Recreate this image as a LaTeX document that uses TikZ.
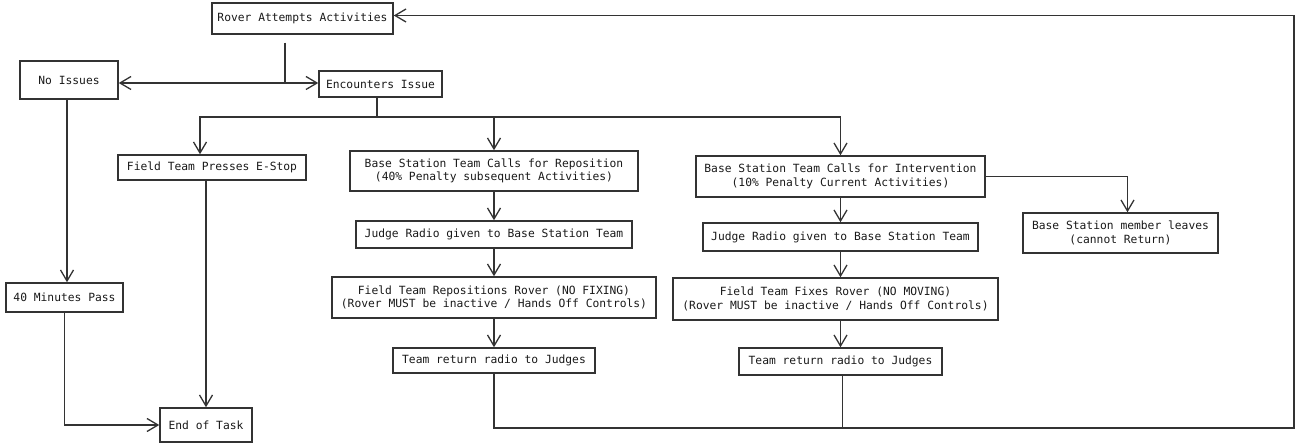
\documentclass[tikz,border=0pt]{standalone}
\usepackage{fontspec}
\setmonofont{DejaVu Sans Mono}
\usetikzlibrary{
  arrows.meta,
  positioning,
}

\begin{document}
\begin{tikzpicture}[x=1pt,y=-1pt,
  line width=1.5pt, draw=black!80,
  >={Straight Barb[length=11pt,width=13pt,line width=1.3pt]},
  box/.style={draw, rectangle, inner sep=2pt, align=center, text=black!90,
    font=\ttfamily\fontsize{11.3}{13.5}\selectfont},
]
\useasboundingbox (0,0) rectangle (1298,443);
\node[box, minimum width=181, minimum height=31] (rover) at (302.5,18.5) {Rover Attempts Activities};
\node[box, minimum width=98, minimum height=38] (noiss) at (69,80) {No Issues};
\node[box, minimum width=123, minimum height=26] (enc) at (380.5,84) {Encounters Issue};
\node[box, minimum width=188, minimum height=25] (estop) at (212,167.5) {Field Team Presses E-Stop};
\node[box, minimum width=288, minimum height=40] (repos) at (494,171) {Base Station Team Calls for Reposition\\(40\% Penalty subsequent Activities)};
\node[box, minimum width=289, minimum height=41] (interv) at (840.5,176.5) {Base Station Team Calls for Intervention\\(10\% Penalty Current Activities)};
\node[box, minimum width=195, minimum height=40] (leaves) at (1120.5,233) {Base Station member leaves\\(cannot Return)};
\node[box, minimum width=276, minimum height=27] (judgeL) at (494,234.5) {Judge Radio given to Base Station Team};
\node[box, minimum width=275, minimum height=28] (judgeR) at (840.5,237) {Judge Radio given to Base Station Team};
\node[box, minimum width=324, minimum height=41] (moveL) at (494,297.5) {Field Team Repositions Rover (NO FIXING)\\(Rover MUST be inactive / Hands Off Controls)};
\node[box, minimum width=325, minimum height=42] (fixR) at (835.5,299) {Field Team Fixes Rover (NO MOVING)\\(Rover MUST be inactive / Hands Off Controls)};
\node[box, minimum width=202, minimum height=25] (retL) at (494,360.5) {Team return radio to Judges};
\node[box, minimum width=203, minimum height=27] (retR) at (840.5,361.5) {Team return radio to Judges};
\node[box, minimum width=117, minimum height=29] (min40) at (64.5,297.5) {40 Minutes Pass};
\node[box, minimum width=92, minimum height=34] (end) at (206,425) {End of Task};

\coordinate (split) at (285,83);
\coordinate (fork) at (377,117);
\coordinate (back) at (1294,428);

% start of run
\draw (split |- rover.south) ++(0,8) -- (split);
\draw[->] (split) -- (split -| noiss.east);
\draw[->] (split) -- (split -| enc.west);
% issue branches
\draw (enc.south -| fork) -- (fork);
\draw[->] (fork) -| ([xshift=-12pt]estop.north);
\draw[->] (fork) -| (repos.north);
\draw[->] (fork) -| (interv.north);
\draw[->] (interv.east) -| ([xshift=7pt]leaves.north);
\draw[->] (repos) -- (judgeL);
\draw[->] (judgeL) -- (moveL);
\draw[->] (moveL) -- (retL);
\draw[->] (interv) -- (judgeR);
\draw[->] (judgeR) -- (judgeR |- fixR.north);
\draw[->] (judgeR |- fixR.south) -- (retR);
% back to the start
\draw[->] (retL) |- (back) |- ([yshift=3pt]rover.east);
\draw ([xshift=2pt]retR.south) -- ([xshift=2pt]retR.south |- back);
% end of task
\draw[->] ([xshift=-2pt]noiss.south) -- ([xshift=-2pt]noiss.south |- min40.north);
\draw[->] (min40.south) |- (end.west);
\draw[->] (estop.south -| end) -- (end.north);
\end{tikzpicture}
\end{document}
